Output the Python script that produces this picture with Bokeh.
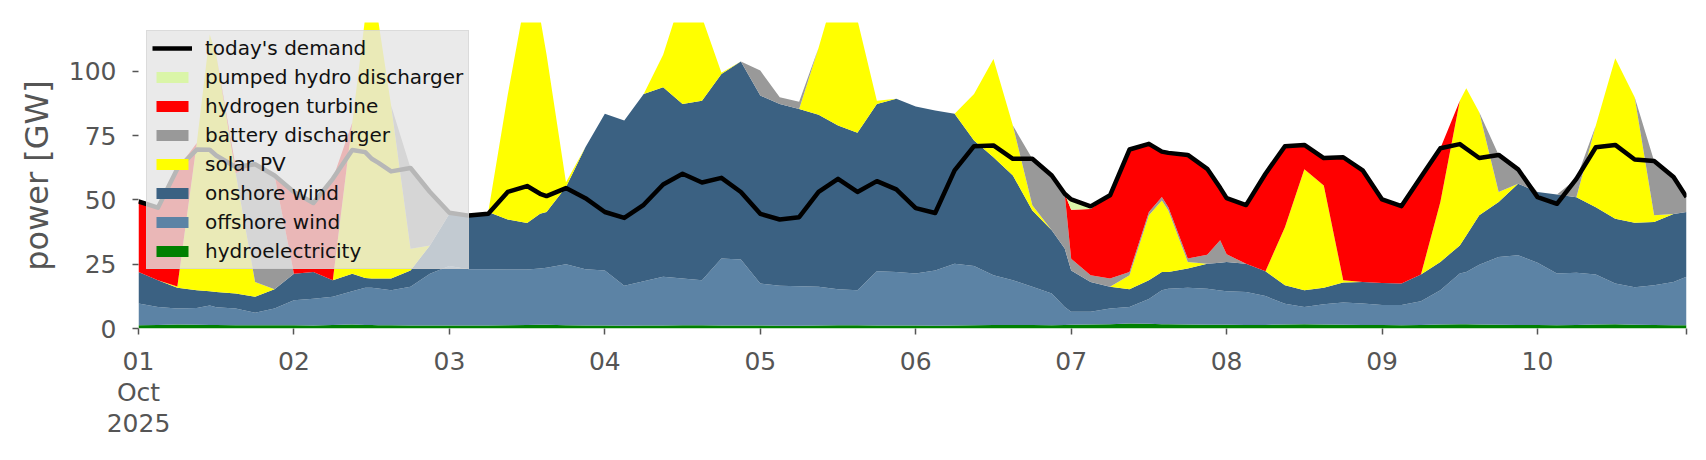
from bokeh.plotting import figure
from bokeh.models import (ColumnDataSource, Range1d, FixedTicker, Legend, LegendItem)
from bokeh.embed import file_html
from bokeh.resources import INLINE

# hours since 2025-10-01 00:00
hours = [0, 3, 6, 9, 11, 12, 15, 18, 21,
         24, 27, 30, 33, 35, 36, 37, 39, 42, 45,
         48, 51, 54, 57, 60, 62, 63, 66, 69,
         72, 75, 78, 81, 84, 87, 90, 93,
         96, 99, 102, 105, 108, 111, 114, 117,
         120, 123, 126, 129, 132, 135, 138, 141, 143,
         144, 147, 150, 153, 156, 158, 159, 162, 165, 167,
         168, 171, 174, 177, 180, 183, 186, 189,
         192, 195, 198, 201, 204, 205, 207, 210, 213,
         216, 219, 222, 225, 228, 231, 234, 237,
         239]

hydroelectricity = [1.3, 1.4, 1.6, 1.5, 1.4, 1.4, 1.3, 1.3, 1.3,
                    1.3, 1.2, 1.4, 1.6, 1.4, 1.4, 1.3, 1.3, 1.2, 1.2,
                    1.2, 1.2, 1.2, 1.3, 1.4, 1.5, 1.5, 1.3, 1.2,
                    1.2, 1.1, 1.2, 1.2, 1.3, 1.3, 1.2, 1.2,
                    1.2, 1.1, 1.1, 1.2, 1.3, 1.3, 1.2, 1.2,
                    1.2, 1.1, 1.2, 1.3, 1.4, 1.4, 1.4, 1.3, 1.4,
                    1.5, 1.6, 1.7, 1.9, 1.8, 1.7, 1.7, 1.6, 1.5, 1.5,
                    1.5, 1.4, 1.4, 1.6, 1.7, 1.6, 1.5, 1.4,
                    1.4, 1.3, 1.4, 1.6, 1.7, 1.7, 1.6, 1.5, 1.4,
                    1.4, 1.3, 1.4, 1.6, 1.7, 1.5, 1.4, 1.3,
                    1.3]

offshore_wind = [8.4, 7.0, 6.2, 6.5, 7.5, 6.9, 6.5, 4.8, 6.5,
                 9.7, 10.4, 10.9, 12.9, 14.4, 14.4, 14.3, 13.6, 15.0, 20.1,
                 23.1, 21.8, 21.8, 21.6, 21.5, 21.8, 22.1, 23.7, 21.8,
                 21.4, 15.5, 17.2, 18.9, 18.1, 17.5, 26.0, 25.6,
                 16.3, 15.5, 15.3, 15.0, 14.0, 13.6, 21.1, 20.8,
                 20.2, 21.5, 24.0, 23.0, 19.3, 17.4, 14.8, 12.3, 7.0,
                 5.0, 4.9, 6.1, 6.5, 9.7, 13.2, 13.8, 14.2, 14.0, 13.3,
                 13.0, 12.8, 11.2, 8.0, 6.7, 7.8, 8.6, 8.3,
                 7.7, 7.8, 9.2, 13.3, 19.7, 20.3, 23.2, 26.3, 27.1,
                 24.2, 20.1, 20.3, 19.4, 15.8, 14.5, 15.4, 16.8,
                 18.8]

onshore_wind = [12.3, 10.4, 8.0, 6.9, 5.6, 5.9, 5.8, 6.2, 7.5,
                10.3, 10.4, 6.5, 6.8, 3.8, 3.6, 3.8, 4.5, 6.4, 11.0,
                20.3, 21.2, 22.3, 19.5, 18.1, 21.3, 21.7, 30.0, 47.5,
                60.9, 64.3, 72.8, 73.7, 67.9, 69.8, 71.8, 77.0,
                73.1, 70.7, 69.0, 66.9, 63.6, 61.2, 65.0, 67.3,
                64.9, 62.2, 58.3, 48.8, 45.9, 40.7, 29.7, 24.6, 22.7,
                16.1, 11.6, 8.4, 6.9, 7.3, 7.1, 6.5, 7.5, 9.7, 10.8,
                11.4, 11.0, 9.7, 7.2, 6.5, 6.4, 7.8, 8.4,
                8.6, 8.4, 10.4, 11.0, 10.9, 14.2, 19.2, 21.4, 27.8,
                27.5, 30.7, 29.3, 26.2, 25.2, 25.1, 24.6, 26.4,
                25.2]

solar_pv = [0, 0, 0.5, 57.2, 99.8, 92.3, 46.8, 5.8, 0,
            0, 0, 0, 58.7, 101.4, 106.6, 100.6, 67.3, 8.4, 0,
            0, 0, 0, 48.4, 91.0, 76.4, 61.3, 1.9, 0,
            0, 0, 0, 12.7, 42.7, 32.4, 0.5, 0,
            0, 0, 0, 26.1, 56.1, 43.9, 1.3, 0,
            0, 0, 0, 18.1, 38.2, 19.4, 2.0, 0, 0,
            0, 0, 0, 5.4, 25.2, 27.8, 23.9, 2.6, 0, 0,
            0, 0, 0, 22.6, 47.0, 39.8, 0.9, 0,
            0, 0, 0, 23.3, 56.3, 57.2, 40.1, 3.9, 0,
            0, 0, 0, 31.7, 62.4, 48.8, 2.6, 0,
            0]

battery_discharger = [0, 0, 0, 0, 0, 0, 0, 45.8, 44.2,
                      0, 0, 0, 0, 0, 0, 0, 0, 31.4, 20.8,
                      0, 0, 0, 0, 0, 0, 0, 0, 0,
                      0, 0, 0, 0, 0, 0, 0, 0,
                      9.7, 2.6, 2.8, 0, 0, 0, 0, 0,
                      0, 0, 0, 0, 0, 0, 18.1, 21.3, 21.3,
                      4.5, 2.6, 3.2, 1.3, 1.3, 1.3, 1.3, 1.3, 3.5, 8.7,
                      3.0, 0, 0, 0, 0, 0, 0, 0,
                      0, 0, 0, 0, 0, 0, 0, 14.4, 5.6,
                      0, 0, 7.2, 0, 0, 0, 21.1, 14.4,
                      5.8]

hydrogen_turbine = [27.4, 28.2, 45.8, 0, 0, 0, 2.4, 0, 0,
                    31.8, 26.8, 39.4, 0, 0, 0, 0, 0, 0, 0,
                    0, 0, 0, 0, 0, 0, 0, 0, 0,
                    0, 0, 0, 0, 0, 0, 0, 0,
                    0, 0, 0, 0, 0, 0, 0, 0,
                    0, 0, 0, 0, 0, 0, 0, 0, 0,
                    19.1, 25.8, 32.4, 47.6, 26.5, 17.7, 21.1, 40.3, 33.4, 20.4,
                    21.8, 22.8, 37.9, 31.5, 9.5, 10.7, 47.8, 43.4,
                    32.5, 30.1, 37.9, 20.9, 0, 0, 0, 0, 0,
                    0, 0, 0, 0, 0, 0, 0, 0,
                    0]

pumped_hydro_discharger = [0, 0, 0, 0, 0, 0, 0, 0, 0,
                           0, 0, 0, 0, 0, 0, 0, 0, 0, 0,
                           0, 0, 0, 0, 0, 0, 0, 0, 0,
                           0, 0, 0, 0, 0, 0, 0, 0,
                           0, 0, 0, 0, 0, 0, 0, 0,
                           0, 0, 0, 0, 0, 0, 0, 0, 0,
                           4.0, 1.0, 0, 0, 0, 0, 0, 0, 0, 0,
                           0, 0, 0, 0, 0, 0, 0, 0,
                           0, 0, 0, 0, 0, 0, 0, 0, 0,
                           0, 0, 0, 0, 0, 0, 0, 0,
                           0]

todays_demand = [49.4, 47.0, 62.1, 69.6, 69.5, 67.3, 62.8, 63.9, 59.5,
                 53.1, 48.8, 58.2, 69.4, 68.6, 66.0, 64.5, 61.1, 62.4, 53.1,
                 45.0, 43.9, 44.6, 53.1, 55.4, 52.4, 51.5, 54.6, 50.7,
                 45.3, 43.0, 48.1, 56.0, 60.2, 56.8, 58.6, 53.1,
                 44.6, 42.4, 43.3, 53.1, 58.2, 53.1, 57.3, 54.1,
                 46.8, 44.9, 61.5, 70.9, 71.2, 66.0, 66.0, 59.5, 52.4,
                 50.2, 47.5, 51.8, 69.6, 71.8, 68.8, 68.3, 67.5, 62.1, 54.7,
                 50.7, 48.0, 60.2, 70.9, 71.4, 66.3, 66.6, 61.5,
                 50.2, 47.6, 58.9, 70.1, 71.7, 69.9, 66.3, 67.5, 61.9,
                 51.1, 48.5, 58.2, 70.5, 71.4, 65.7, 65.1, 58.9,
                 51.1]

day_ticks = [0, 24, 48, 72, 96, 120, 144, 168, 192, 216, 239]
day_labels = ["01\nOct\n2025", "02", "03", "04", "05", "06", "07", "08", "09", "10", ""]

series_names = ["hydroelectricity", "offshore wind", "onshore wind", "solar PV",
                "battery discharger", "hydrogen turbine", "pumped hydro discharger"]
series_values = [hydroelectricity, offshore_wind, onshore_wind, solar_pv,
                 battery_discharger, hydrogen_turbine, pumped_hydro_discharger]
series_colors = ["#008000", "#5c83a5", "#3b6182", "#ffff00",
                 "#999999", "#ff0000", "#daf5a8"]

keys = ["s%d" % i for i in range(len(series_names))]
data = {"t": hours, "demand": todays_demand}
for k, v in zip(keys, series_values):
    data[k] = v
source = ColumnDataSource(data)

p = figure(width=1698, height=452, output_backend="svg", toolbar_location=None,
           x_range=Range1d(0, 239), y_range=Range1d(0, 119),
           min_border_left=138, min_border_right=12, min_border_top=22,
           min_border_bottom=124)
p.outline_line_color = None
p.xgrid.visible = False
p.ygrid.visible = False
p.background_fill_color = "white"

areas = p.varea_stack(stackers=keys, x="t", color=series_colors, source=source)
dline = p.line("t", "demand", source=source, color="black", line_width=4.5,
               line_join="round")

tick_color = "#555555"
font = "DejaVu Sans"

xa = p.xaxis[0]
xa.ticker = FixedTicker(ticks=day_ticks)
xa.major_label_overrides = {t: l for t, l in zip(day_ticks, day_labels)}
xa.axis_line_color = None
xa.major_tick_line_color = tick_color
xa.major_tick_line_width = 1.5
xa.major_tick_out = 6
xa.major_tick_in = 0
xa.minor_tick_line_color = None
xa.major_label_text_font = font
xa.major_label_text_font_size = "25px"
xa.major_label_text_color = tick_color
xa.major_label_text_line_height = 1.07
xa.major_label_standoff = 12

ya = p.yaxis[0]
ya.ticker = FixedTicker(ticks=[0, 25, 50, 75, 100])
ya.axis_line_color = None
ya.major_tick_line_color = tick_color
ya.major_tick_line_width = 1.5
ya.major_tick_out = 6
ya.major_tick_in = 0
ya.minor_tick_line_color = None
ya.major_label_text_font = font
ya.major_label_text_font_size = "25px"
ya.major_label_text_color = tick_color
ya.major_label_standoff = 16
ya.axis_label = "power [GW]"
ya.axis_label_text_font = font
ya.axis_label_text_font_size = "32px"
ya.axis_label_text_font_style = "normal"
ya.axis_label_text_color = tick_color
ya.axis_label_standoff = 10

items = [LegendItem(label="today's demand", renderers=[dline])]
for name, r in reversed(list(zip(series_names, areas))):
    items.append(LegendItem(label=name, renderers=[r]))

legend = Legend(items=items, location="top_left", margin=8, padding=5,
                spacing=5, glyph_width=40, glyph_height=14, label_height=21,
                label_standoff=13,
                label_text_font=font, label_text_font_size="20px",
                label_text_color="#111111",
                background_fill_color="#e5e5e5", background_fill_alpha=0.8,
                border_line_color="#cccccc", border_line_width=1.2)
p.add_layout(legend)

open("out.html", "w").write(file_html(p, INLINE))
